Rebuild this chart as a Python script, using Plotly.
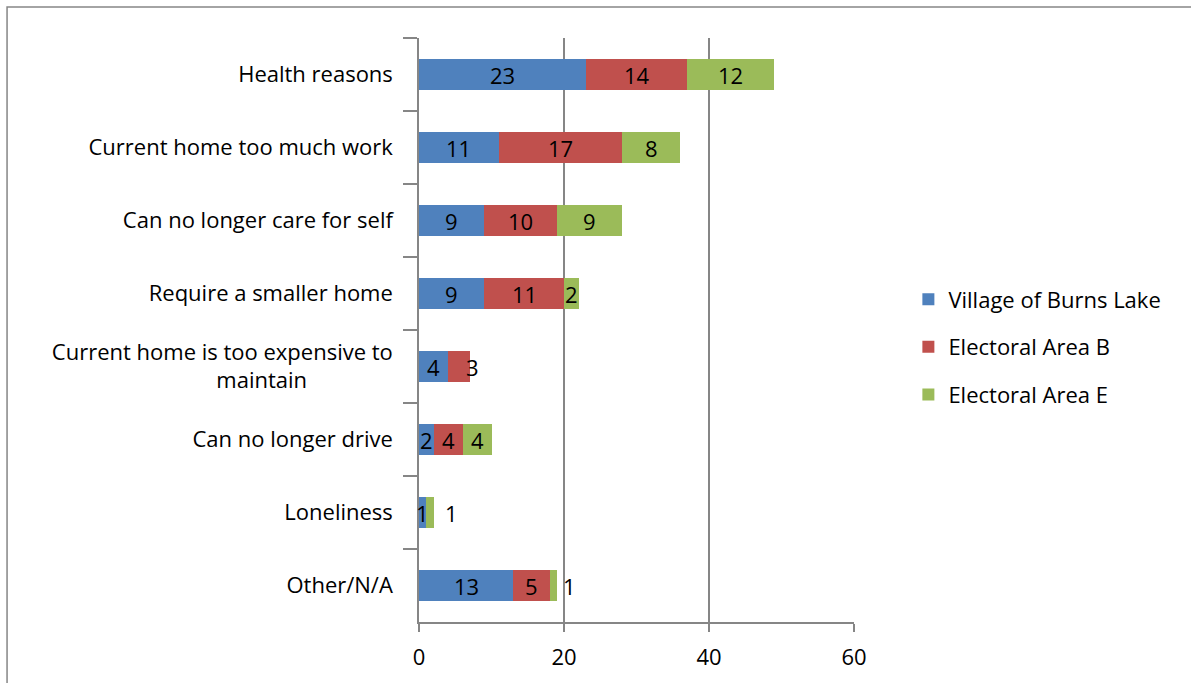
import plotly.graph_objects as go

categories = [
    "Health reasons",
    "Current home too much work",
    "Can no longer care for self",
    "Require a smaller home",
    "Current home is too expensive to<br>maintain" + "&nbsp;" * 15,
    "Can no longer drive",
    "Loneliness",
    "Other/N/A",
]
series_names = ["Village of Burns Lake", "Electoral Area B", "Electoral Area E"]
burns_lake = [23, 11, 9, 9, 4, 2, 1, 13]
area_b = [14, 17, 10, 11, 3, 4, 0, 5]
area_e = [12, 8, 9, 2, 0, 4, 1, 1]
x_ticks = [0, 20, 40, 60]

colors = ["#4F81BD", "#C0504D", "#9BBB59"]
FONT = "Open Sans"
FS = 22
all_series = [burns_lake, area_b, area_e]

fig = go.Figure()
for name, vals, col in zip(series_names, all_series, colors):
    fig.add_trace(go.Bar(
        y=categories, x=vals, name=name, orientation="h", legendgroup=name,
        marker=dict(color=col, line=dict(width=0)),
    ))

# value labels
# pixel shifts for labels that Excel pushed off-centre
label_shift = {(4, 1): 14, (6, 2): 22, (7, 2): 16}
annotations = []
for i, cat in enumerate(categories):
    left = 0
    for s, vals in enumerate(all_series):
        v = vals[i]
        if v > 0:
            shift = label_shift.get((i, s), 0)
            annotations.append(dict(
                x=left + v / 2, y=cat, xref="x", yref="y", text=str(v),
                showarrow=False, xshift=shift,
                font=dict(family=FONT, size=FS, color="#000000"),
            ))
        left += v
fig.update_layout(annotations=annotations)

# frame line of the chart area (top and left borders visible)
fig.add_shape(type="rect", xref="paper", yref="paper",
              x0=-0.947, x1=1.9, y0=-0.5, y1=1.053,
              line=dict(color="#868686", width=1.5), layer="below")

fig.update_layout(
    barmode="stack",
    bargap=0.57,
    width=1191, height=683,
    margin=dict(l=419, r=337, t=38, b=61),
    paper_bgcolor="white", plot_bgcolor="white",
    font=dict(family=FONT, size=FS, color="#000000"),
    showlegend=True,
    legend=dict(
        x=1.125, y=0.471, xanchor="left", yanchor="middle",
        traceorder="grouped", tracegroupgap=16,
        font=dict(family=FONT, size=FS, color="#000000"),
        bgcolor="rgba(0,0,0,0)",
    ),
    xaxis=dict(
        range=[0, 60], tickvals=x_ticks, ticktext=[str(t) for t in x_ticks],
        showgrid=True, gridcolor="#868686", gridwidth=1.5,
        showline=True, linecolor="#868686", linewidth=1.5,
        ticks="outside", ticklen=8, tickcolor="#868686", tickwidth=1.5,
        zeroline=False, fixedrange=True,
        ticklabelstandoff=7,
        tickfont=dict(family=FONT, size=FS, color="#000000"),
    ),
    yaxis=dict(
        autorange="reversed", type="category",
        showline=True, linecolor="#868686", linewidth=1.5,
        ticks="outside", ticklen=14, tickcolor="#868686", tickwidth=1.5,
        tickson="boundaries", showgrid=False,
        ticklabelstandoff=20,
        tickfont=dict(family=FONT, size=FS, color="#000000"),
    ),
)

fig.write_html("out.html", config={"displayModeBar": False},
               post_script="document.body.style.margin='0';")
